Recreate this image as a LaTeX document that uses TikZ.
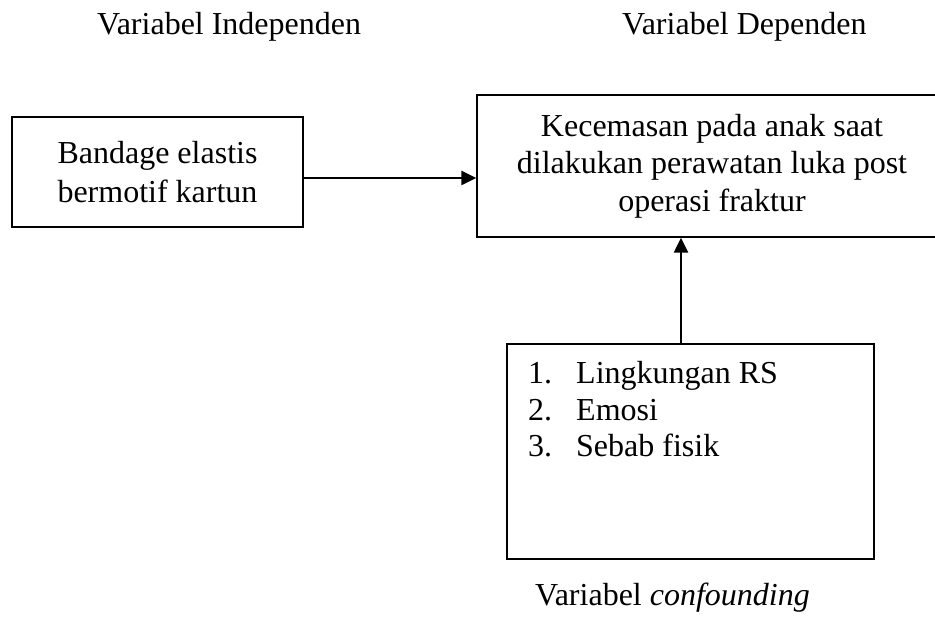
\documentclass[tikz,border=0pt]{standalone}
\usepackage{fontspec}
\setmainfont{Liberation Serif}
\usetikzlibrary{arrows.meta}
\begin{document}
\begin{tikzpicture}[x=1pt,y=-1pt,
  box/.style={draw,line width=1.4pt,inner sep=0pt,align=center,font=\fontsize{32}{39}\selectfont},
  lbl/.style={inner sep=0pt,font=\fontsize{32}{38}\selectfont},
  arr/.style={line width=2.4pt,-{Triangle[length=15pt,width=14pt]}}]
\useasboundingbox (0,0) rectangle (935,620);
\clip (0,0) rectangle (935,620);
\node[lbl,anchor=base west] (tind) at (97,35) {Variabel Independen};
\node[lbl,anchor=base west] (tdep) at (622,35) {Variabel Dependen};
\node[box,minimum width=291pt,minimum height=110pt] (lb) at (157.5,172)
  {Bandage elastis\\bermotif kartun};
\node[box,minimum width=470pt,minimum height=142pt,font=\fontsize{32}{37.5}\selectfont] (rb) at (712,166)
  {Kecemasan pada anak saat\\dilakukan perawatan luka post\\operasi fraktur};
\node[box,minimum width=367pt,minimum height=215pt] (cb) at (690.5,451.5) {};
\node[lbl,anchor=base west,font=\fontsize{32}{36.5}\selectfont] (clist) at (528,384)
  {\begin{tabular}[t]{@{}l@{\hspace{24pt}}l@{}}1. & Lingkungan RS\\2. & Emosi\\3. & Sebab fisik\end{tabular}};
\node[lbl,anchor=base west] (tconf) at (535,605) {Variabel \textit{confounding}};
\coordinate (a1) at ([yshift=-6pt]lb.east);
\draw[arr] (a1) -- (a1 -| rb.west);
\coordinate (a2) at ([xshift=-9.5pt]cb.north);
\draw[arr] (a2) -- (a2 |- rb.south);
\end{tikzpicture}
\end{document}
